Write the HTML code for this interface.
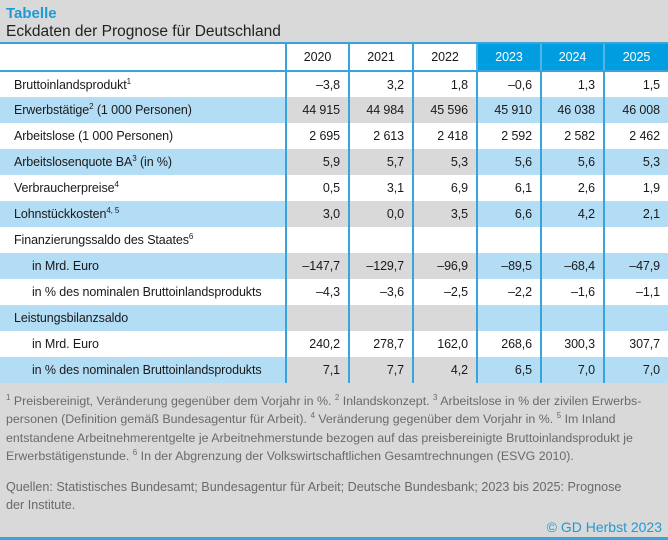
<!DOCTYPE html>
<html><head><meta charset="utf-8"><style>
*{margin:0;padding:0;box-sizing:border-box}
body{width:668px;height:540px;background:#d9d9d9;font-family:"Liberation Sans",sans-serif;position:relative;overflow:hidden;color:#1a1a1a}
.t1{position:absolute;left:6px;top:5px;font-size:15px;font-weight:bold;color:#1e9bd7}
.t2{position:absolute;left:6px;top:23px;font-size:15.5px;color:#222}
table{position:absolute;left:0;top:42px;width:668px;table-layout:fixed;border-collapse:collapse;font-size:12.5px;letter-spacing:-0.1px}
td{height:26px;padding:0 8px 0 0;text-align:right;border-left:2px solid #3aa3dc;white-space:nowrap;overflow:visible}
td:first-child{text-align:left;padding-left:14px;border-left:none}
td.i{padding-left:32px}
tr.h td{height:28px;background:#fff;text-align:center;padding:0;border-top:2px solid #3aa3dc;border-bottom:2px solid #3aa3dc}
tr.h td.b{background:#009ee0;color:#fff;border-left:2px solid #4db5e8}
tr.s td{background:#d9d9d9}
tr.s td:first-child,tr.s td.f{background:#b3dcf5}
tr.w td{background:#fff}
sup{font-size:8px;vertical-align:5px;line-height:0}
.fn{position:absolute;left:6px;top:392px;width:660px;font-size:12.4px;line-height:18.3px;color:#6a6a6a}
.q{position:absolute;left:6px;top:478px;font-size:12.6px;line-height:18px;color:#6a6a6a;width:662px}
.cp{position:absolute;right:6px;top:519px;font-size:14px;color:#1e9bd7}
.bl{position:absolute;left:0;top:537px;width:668px;height:3px;background:#3aa3dc}
</style></head><body>
<div class="t1">Tabelle</div>
<div class="t2">Eckdaten der Prognose für Deutschland</div>
<table>
<colgroup><col style="width:286px"><col style="width:63px"><col style="width:64px"><col style="width:64px"><col style="width:64px"><col style="width:63px"><col style="width:64px"></colgroup>
<tr class="h"><td></td><td>2020</td><td>2021</td><td>2022</td><td class="b">2023</td><td class="b">2024</td><td class="b">2025</td></tr>
<tr class="w"><td>Bruttoinlandsprodukt<sup>1</sup></td><td>–3,8</td><td>3,2</td><td>1,8</td><td>–0,6</td><td>1,3</td><td>1,5</td></tr>
<tr class="s"><td>Erwerbstätige<sup>2</sup> (1 000 Personen)</td><td>44 915</td><td>44 984</td><td>45 596</td><td class="f">45 910</td><td class="f">46 038</td><td class="f">46 008</td></tr>
<tr class="w"><td>Arbeitslose (1 000 Personen)</td><td>2 695</td><td>2 613</td><td>2 418</td><td>2 592</td><td>2 582</td><td>2 462</td></tr>
<tr class="s"><td>Arbeitslosenquote BA<sup>3</sup> (in %)</td><td>5,9</td><td>5,7</td><td>5,3</td><td class="f">5,6</td><td class="f">5,6</td><td class="f">5,3</td></tr>
<tr class="w"><td>Verbraucherpreise<sup>4</sup></td><td>0,5</td><td>3,1</td><td>6,9</td><td>6,1</td><td>2,6</td><td>1,9</td></tr>
<tr class="s"><td>Lohnstückkosten<sup>4, 5</sup></td><td>3,0</td><td>0,0</td><td>3,5</td><td class="f">6,6</td><td class="f">4,2</td><td class="f">2,1</td></tr>
<tr class="w"><td>Finanzierungssaldo des Staates<sup>6</sup></td><td></td><td></td><td></td><td></td><td></td><td></td></tr>
<tr class="s"><td class="i">in Mrd. Euro</td><td>–147,7</td><td>–129,7</td><td>–96,9</td><td class="f">–89,5</td><td class="f">–68,4</td><td class="f">–47,9</td></tr>
<tr class="w"><td class="i">in % des nominalen Bruttoinlandsprodukts</td><td>–4,3</td><td>–3,6</td><td>–2,5</td><td>–2,2</td><td>–1,6</td><td>–1,1</td></tr>
<tr class="s"><td>Leistungsbilanzsaldo</td><td></td><td></td><td></td><td class="f"></td><td class="f"></td><td class="f"></td></tr>
<tr class="w"><td class="i">in Mrd. Euro</td><td>240,2</td><td>278,7</td><td>162,0</td><td>268,6</td><td>300,3</td><td>307,7</td></tr>
<tr class="s"><td class="i">in % des nominalen Bruttoinlandsprodukts</td><td>7,1</td><td>7,7</td><td>4,2</td><td class="f">6,5</td><td class="f">7,0</td><td class="f">7,0</td></tr>
</table>
<div class="fn"><sup>1</sup> Preisbereinigt, Veränderung gegenüber dem Vorjahr in %. <sup>2</sup> Inlandskonzept. <sup>3</sup> Arbeitslose in % der zivilen Erwerbs-<br>personen (Definition gemäß Bundesagentur für Arbeit). <sup>4</sup> Veränderung gegenüber dem Vorjahr in %. <sup>5</sup> Im Inland<br>entstandene Arbeitnehmerentgelte je Arbeitnehmerstunde bezogen auf das preisbereinigte Bruttoinlandsprodukt je<br>Erwerbstätigenstunde. <sup>6</sup> In der Abgrenzung der Volkswirtschaftlichen Gesamtrechnungen (ESVG 2010).</div>
<div class="q">Quellen: Statistisches Bundesamt; Bundesagentur für Arbeit; Deutsche Bundesbank; 2023 bis 2025: Prognose<br>der Institute.</div>
<div class="cp">© GD Herbst 2023</div>
<div class="bl"></div>
</body></html>
